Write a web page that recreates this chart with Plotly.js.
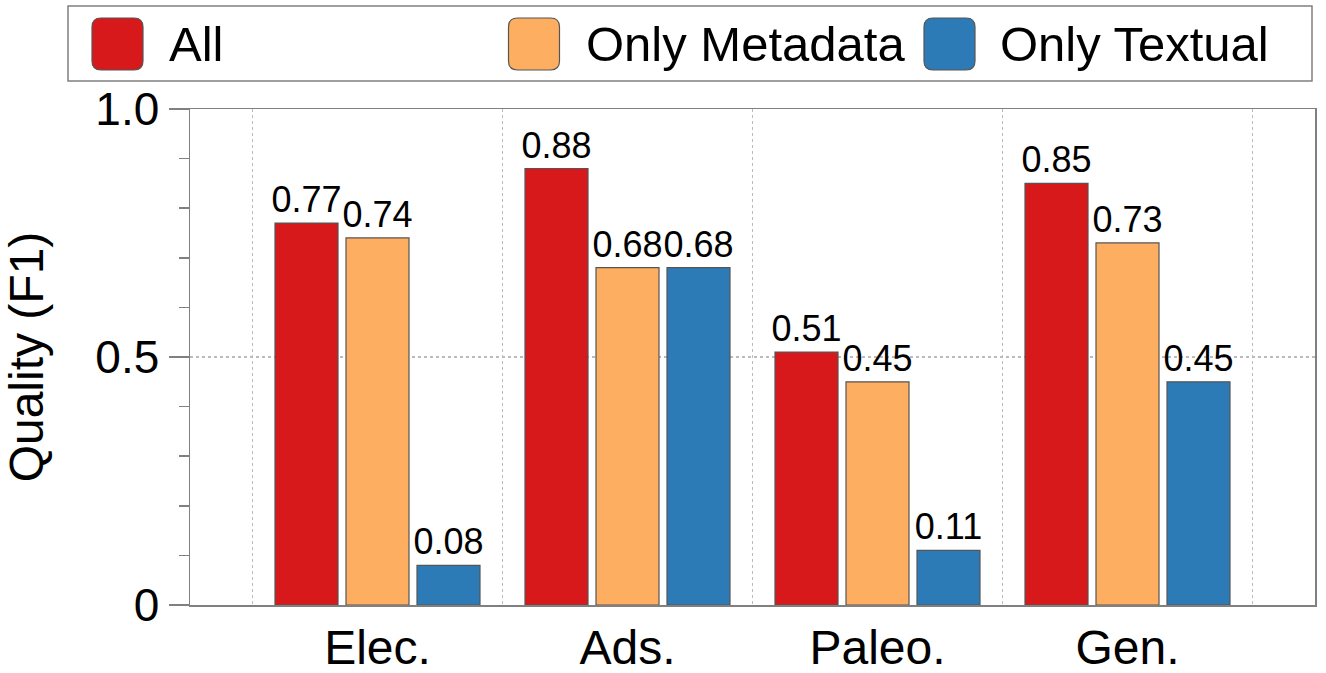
<!DOCTYPE html>
<html>
<head>
<meta charset="utf-8">
<script src="https://cdn.plot.ly/plotly-3.0.1.min.js"></script>
<style>html,body{margin:0;padding:0;background:#fff;}#chart{width:1326px;height:673px;}</style>
</head>
<body>
<div id="chart"></div>
<script>
const categories = ['Elec.', 'Ads.', 'Paleo.', 'Gen.'];
const seriesNames = ['All', 'Only Metadata', 'Only Textual'];
const allValues = [0.77, 0.88, 0.51, 0.85];
const metadataValues = [0.74, 0.68, 0.45, 0.73];
const textualValues = [0.08, 0.68, 0.11, 0.45];
const yTickVals = [0, 0.5, 1.0];
const yTickText = ['0', '0.5', '1.0'];

const colors = ['#d7191c', '#fdae61', '#2c7bb6'];
const FONT = 'Liberation Sans, Arial, Helvetica, sans-serif';
const seriesValues = [allValues, metadataValues, textualValues];
const xIdx = categories.map((_, i) => i);
const barW = 0.252, step = 0.284;

const traces = seriesValues.map((vals, k) => ({
  type: 'bar',
  name: seriesNames[k],
  x: xIdx,
  y: vals,
  width: barW,
  offset: (k - 1) * step - barW / 2,
  marker: {color: colors[k], line: {color: '#555', width: 1.2}},
  texttemplate: '%{y:.2f}',
  textposition: 'outside',
  constraintext: 'none',
  cliponaxis: false,
  textfont: {family: FONT, size: 36, color: '#000'},
  showlegend: false,
  hoverinfo: 'x+y'
}));

// custom legend (large rounded swatches)
const L = 190, T = 109, PW = 1125, PH = 496;
const px2x = p => (p - L) / PW;
const py2y = p => (T + PH - p) / PH;
const shapes = [{
  type: 'rect', xref: 'paper', yref: 'paper',
  x0: px2x(68), x1: px2x(1312), y0: py2y(81), y1: py2y(6),
  line: {color: '#808080', width: 1.5}, fillcolor: 'rgba(0,0,0,0)'
}];
const annotations = [];
const swatchCx = [117.5, 534, 949.5];
const textX = [167, 584, 998];
const r = 9, hw = 25.5, hh = 26;
const rr = `M ${-hw + r},${-hh} L ${hw - r},${-hh} Q ${hw},${-hh} ${hw},${-hh + r} L ${hw},${hh - r} Q ${hw},${hh} ${hw - r},${hh} L ${-hw + r},${hh} Q ${-hw},${hh} ${-hw},${hh - r} L ${-hw},${-hh + r} Q ${-hw},${-hh} ${-hw + r},${-hh} Z`;
seriesNames.forEach((nm, k) => {
  shapes.push({
    type: 'path', xref: 'paper', yref: 'paper',
    xsizemode: 'pixel', ysizemode: 'pixel',
    xanchor: px2x(swatchCx[k]), yanchor: py2y(44),
    path: rr, fillcolor: colors[k], line: {color: '#555', width: 1.2}
  });
  annotations.push({
    xref: 'paper', yref: 'paper', x: px2x(textX[k]), y: py2y(44),
    xanchor: 'left', yanchor: 'middle', showarrow: false,
    text: nm, font: {family: FONT, size: 49, color: '#000'}
  });
});

const axisCol = '#808080';
const layout = {
  width: 1326, height: 673,
  margin: {l: L, r: 1326 - L - PW, t: T, b: 673 - T - PH, pad: 0},
  paper_bgcolor: '#fff', plot_bgcolor: '#fff',
  font: {family: FONT, color: '#000'},
  barmode: 'overlay',
  xaxis: {
    range: [-0.75, 3.75],
    tickmode: 'array', tickvals: xIdx, ticktext: categories,
    tickfont: {family: FONT, size: 48, color: '#000'},
    ticks: '', showgrid: false, zeroline: false,
    showline: true, linecolor: axisCol, linewidth: 1.5, mirror: true,
    minor: {tickmode: 'linear', tick0: -0.5, dtick: 1, ticks: '', showgrid: true,
            gridcolor: '#bbb', griddash: 'dot', gridwidth: 1.2},
    fixedrange: true
  },
  yaxis: {
    range: [0, 1],
    tickmode: 'array', tickvals: yTickVals, ticktext: yTickText,
    tickfont: {family: FONT, size: 46, color: '#000'},
    ticks: 'outside', ticklen: 20, tickwidth: 1.5, tickcolor: axisCol,
    minor: {tickmode: 'linear', tick0: 0, dtick: 0.1, ticks: 'outside', ticklen: 10,
            tickwidth: 1.5, tickcolor: axisCol, showgrid: false},
    showgrid: true, gridcolor: '#bbb', griddash: 'dot', gridwidth: 1.2,
    zeroline: false,
    showline: true, linecolor: axisCol, linewidth: 1.5, mirror: true,
    title: {text: 'Quality (F1)', font: {family: FONT, size: 48, color: '#000'}, standoff: 40},
    fixedrange: true
  },
  shapes: shapes,
  annotations: annotations,
  showlegend: false
};

Plotly.newPlot('chart', traces, layout, {displayModeBar: false, staticPlot: true});
</script>
</body>
</html>
